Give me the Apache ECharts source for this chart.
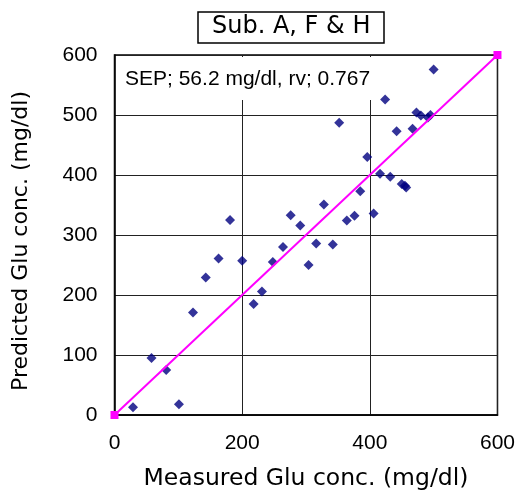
<!DOCTYPE html>
<html>
<head>
<meta charset="utf-8">
<script src="https://cdn.jsdelivr.net/npm/echarts@6/dist/echarts.min.js"></script>
<style>html,body{margin:0;padding:0;background:#fff;}#c{width:518px;height:496px;}</style>
</head>
<body>
<div id="c"></div>
<script>
var measured = [29, 58, 81, 101, 123, 143, 163, 181, 200, 218, 231, 248, 264, 276, 291, 304, 316, 328, 342, 352, 364, 376, 385, 396, 406, 416, 424, 432, 442, 450, 455, 457, 467, 473, 480, 491, 495, 500];
var predicted = [13, 95, 75, 18, 171, 229, 261, 325, 257, 185, 206, 255, 280, 333, 316, 250, 286, 351, 284, 487, 324, 332, 373, 430, 336, 402, 526, 397, 473, 385, 382, 379, 477, 504, 499, 496, 500, 576];
var idealX = [0, 600];
var idealY = [0, 600];
var xTicks = [0, 200, 400, 600];
var yTicks = [0, 100, 200, 300, 400, 500, 600];
var titleText = 'Sub. A, F & H';
var noteText = 'SEP; 56.2 mg/dl, rv; 0.767';

var chart = echarts.init(document.getElementById('c'), null, {renderer: 'canvas'});
var pts = measured.map(function (v, i) { return [v, predicted[i]]; });
var line = idealX.map(function (v, i) { return [v, idealY[i]]; });
var font = '"Liberation Sans", Arial, sans-serif';
var wide = '"DejaVu Sans", sans-serif';
chart.setOption({
  backgroundColor: '#fff',
  animation: false,
  title: {
    text: titleText,
    left: 198, top: 12,
    padding: [3, 14, 4, 14],
    borderColor: '#000', borderWidth: 1.5,
    textStyle: {fontFamily: wide, fontSize: 24, fontWeight: 'normal', color: '#000'}
  },
  grid: {left: 114.5, right: 20, top: 55, bottom: 80, show: true, borderColor: '#000', borderWidth: 1.5, backgroundColor: 'transparent'},
  xAxis: {
    type: 'value', min: xTicks[0], max: xTicks[xTicks.length - 1], interval: 200,
    name: 'Measured Glu conc. (mg/dl)', nameLocation: 'middle', nameGap: 52,
    nameTextStyle: {fontFamily: wide, fontSize: 23.5, color: '#000'},
    axisLine: {show: true, lineStyle: {color: '#000', width: 1.5}},
    axisTick: {show: false},
    axisLabel: {fontFamily: font, fontSize: 21, color: '#000', margin: 18},
    splitLine: {show: true, lineStyle: {color: '#222', width: 1}}
  },
  yAxis: {
    type: 'value', min: yTicks[0], max: yTicks[yTicks.length - 1], interval: 100,
    name: 'Predicted Glu conc. (mg/dl)', nameLocation: 'middle', nameGap: 82, nameRotate: 90,
    nameTextStyle: {fontFamily: wide, fontSize: 22, color: '#000', padding: [0, 12, 0, 0]},
    axisLine: {show: true, lineStyle: {color: '#000', width: 1.5}},
    axisTick: {show: false},
    axisLabel: {fontFamily: font, fontSize: 21, color: '#000', margin: 17},
    splitLine: {show: true, lineStyle: {color: '#222', width: 1}}
  },
  graphic: [
    {type: 'rect', left: 117, top: 57, shape: {width: 266, height: 43}, style: {fill: '#fff'}, z: 1},
    {type: 'text', left: 125, top: 69, style: {text: noteText, font: '21px ' + font, fill: '#000'}, z: 1}
  ],
  series: [
    {type: 'scatter', data: pts, symbol: 'diamond', symbolSize: 10, itemStyle: {color: '#000080'}, z: 3},
    {type: 'line', data: line, symbol: 'rect', symbolSize: 8, showSymbol: true, clip: false,
     lineStyle: {color: '#FF00FF', width: 2}, itemStyle: {color: '#FF00FF'}, z: 4}
  ]
});
</script>
</body>
</html>
